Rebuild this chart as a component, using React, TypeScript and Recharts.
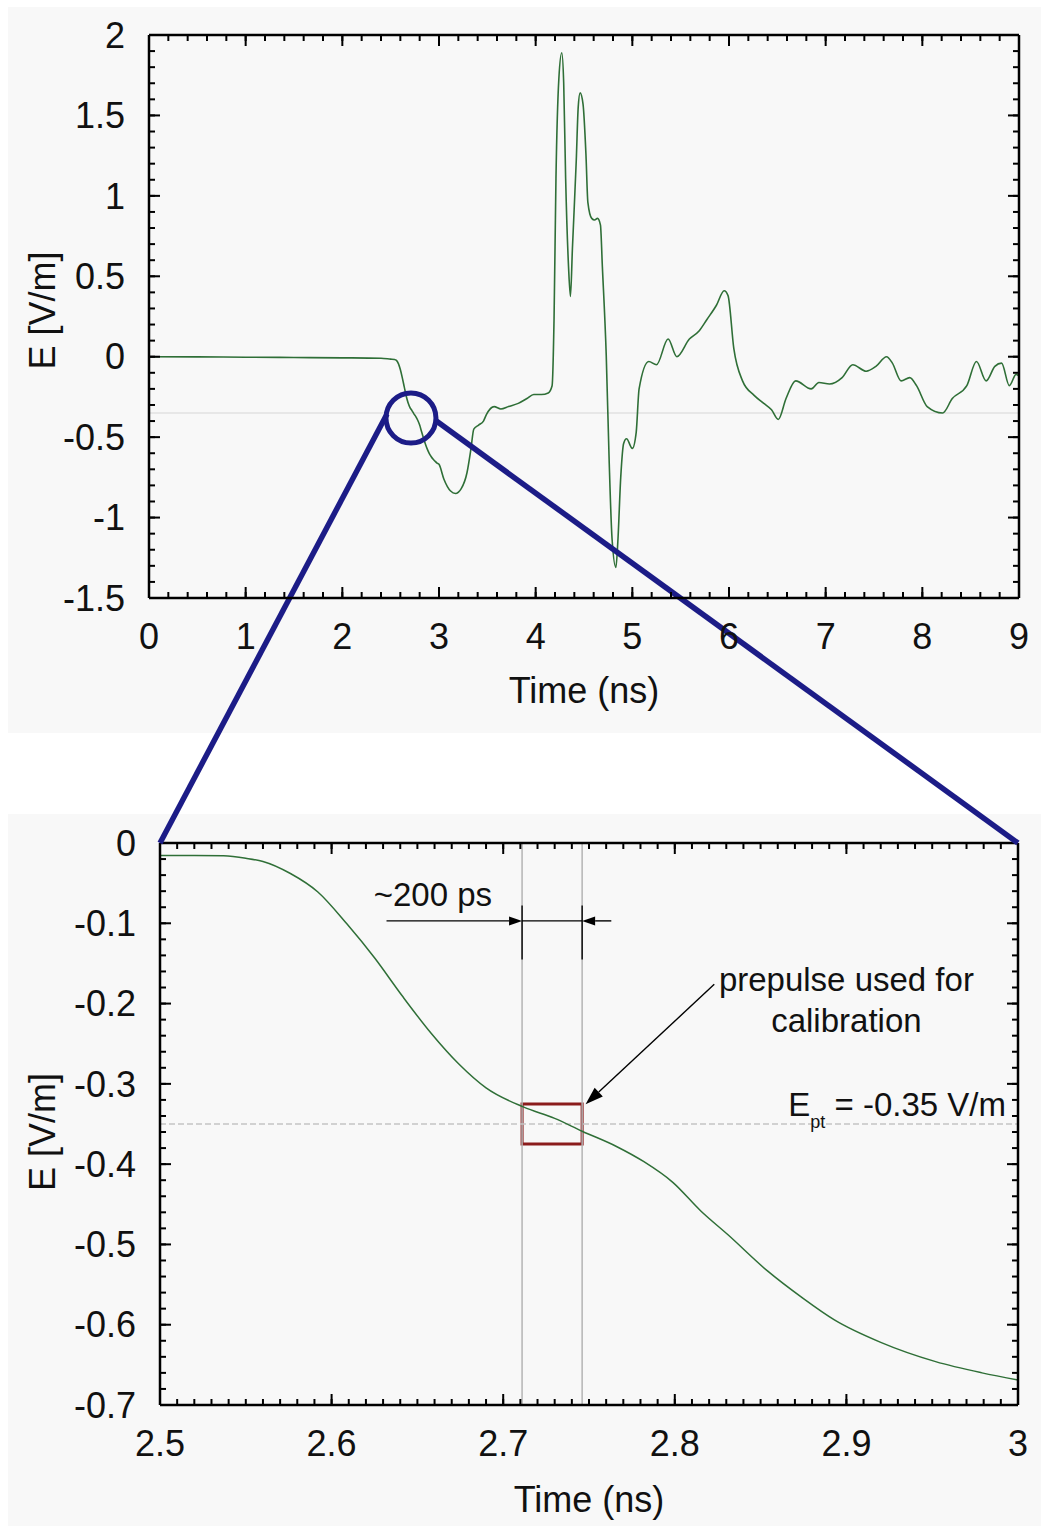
import React from "react"
import { Line, LineChart, ReferenceArea, ReferenceDot, ReferenceLine, XAxis, YAxis } from "recharts"

const FONT = '"Liberation Sans", Arial, Helvetica, sans-serif'
const INK = "#111"
const NAVY = "#1c1c87"
const TRACE = "#2f6f37"
const PANEL = "#f8f8f8"

// full record, time in ns / field in V/m
const recordTime = [
    0, 0.5, 1, 1.5, 2, 2.4, 2.5, 2.54, 2.56, 2.58,
    2.6, 2.62, 2.64, 2.66, 2.68, 2.7, 2.72, 2.74, 2.76, 2.78,
    2.8, 2.82, 2.84, 2.86, 2.88, 2.9, 2.92, 2.94, 2.96, 2.98,
    3, 3.05, 3.12, 3.17, 3.23, 3.29, 3.33, 3.36, 3.41, 3.46,
    3.49, 3.57, 3.64, 3.72, 3.82, 3.91, 3.98, 4.06, 4.13, 4.17,
    4.19, 4.21, 4.24, 4.27, 4.29, 4.31, 4.34, 4.36, 4.38, 4.42,
    4.44, 4.46, 4.49, 4.52, 4.54, 4.58, 4.61, 4.64, 4.67, 4.69,
    4.73, 4.76, 4.79, 4.83, 4.85, 4.88, 4.91, 4.94, 5, 5.04,
    5.07, 5.17, 5.25, 5.37, 5.46, 5.59, 5.69, 5.77, 5.87, 5.95,
    5.99, 6.05, 6.14, 6.26, 6.36, 6.44, 6.51, 6.59, 6.69, 6.85,
    6.93, 7.04, 7.17, 7.28, 7.42, 7.52, 7.63, 7.69, 7.78, 7.87,
    7.94, 8.05, 8.21, 8.31, 8.46, 8.56, 8.66, 8.75, 8.82, 8.9,
    8.97, 9,
]
const recordField = [
    0, -0.001, -0.003, -0.005, -0.007, -0.01, -0.015, -0.017, -0.023, -0.043,
    -0.08, -0.13, -0.186, -0.243, -0.286, -0.316, -0.335, -0.355, -0.372, -0.395,
    -0.425, -0.467, -0.507, -0.544, -0.576, -0.602, -0.622, -0.638, -0.65, -0.661,
    -0.669, -0.76, -0.835, -0.85, -0.82, -0.72, -0.575, -0.45, -0.425, -0.4,
    -0.36, -0.31, -0.325, -0.31, -0.29, -0.26, -0.235, -0.235, -0.225, -0.18,
    0.23, 1.11, 1.73, 1.89, 1.7, 1.11, 0.56, 0.375, 0.67, 1.22,
    1.55, 1.64, 1.57, 1.26, 0.96, 0.86, 0.85, 0.86, 0.82, 0.56,
    0.01, -0.64, -1.13, -1.31, -1.15, -0.75, -0.54, -0.51, -0.57, -0.47,
    -0.2, -0.03, -0.05, 0.11, 0, 0.11, 0.16, 0.23, 0.32, 0.41,
    0.38, 0.05, -0.15, -0.24, -0.29, -0.33, -0.39, -0.26, -0.15, -0.2,
    -0.16, -0.17, -0.13, -0.05, -0.09, -0.06, 0, -0.04, -0.15, -0.13,
    -0.18, -0.31, -0.35, -0.26, -0.18, -0.03, -0.15, -0.06, -0.04, -0.18,
    -0.11, -0.12,
]

// zoom on the prepulse, 2.5 - 3 ns
const prepulseTime = [
    2.5, 2.52, 2.537, 2.55, 2.56, 2.576, 2.592, 2.609, 2.625, 2.641,
    2.658, 2.674, 2.69, 2.712, 2.73, 2.746, 2.766, 2.782, 2.799, 2.815,
    2.831, 2.854, 2.874, 2.893, 2.92, 2.952, 2.979, 3,
]
const prepulseField = [
    -0.0155, -0.0155, -0.016, -0.019, -0.023, -0.038, -0.061, -0.101, -0.143, -0.19,
    -0.237, -0.275, -0.305, -0.329, -0.343, -0.359, -0.378, -0.397, -0.423, -0.458,
    -0.488, -0.533, -0.566, -0.594, -0.622, -0.646, -0.66, -0.669,
]

const recordTimeTicks = [0, 1, 2, 3, 4, 5, 6, 7, 8, 9]
const recordFieldTicks = [-1.5, -1, -0.5, 0, 0.5, 1, 1.5, 2]
const prepulseTimeTicks = [2.5, 2.6, 2.7, 2.8, 2.9, 3]
const prepulseFieldTicks = [-0.7, -0.6, -0.5, -0.4, -0.3, -0.2, -0.1, 0]

// calibration window and threshold
const windowStart = 2.711
const windowEnd = 2.746
const boxTop = -0.325
const boxBottom = -0.375
const fieldPt = -0.35

const recordData = recordTime.map((t, i) => ({ t, e: recordField[i] }))
const prepulseData = prepulseTime.map((t, i) => ({ t, e: prepulseField[i] }))

const steps = (from: number, to: number, step: number) =>
    Array.from({ length: Math.round((to - from) / step) + 1 }, (_, i) => +(from + i * step).toFixed(4))

const tickStyle = { fontSize: 36, fill: INK, fontFamily: FONT }
const frameLine = { stroke: "#000", strokeWidth: 2.5 }
const tickLine = { stroke: "#000", strokeWidth: 2 }
const THIN = 0.01 // mirrored axes take (almost) no room
const noLabel = () => <g />

// inward ticks on all four sides, gnuplot style
const frameAxes = (id: string, xd: number[], yd: number[], xMaj: number[], xMin: number[], yMaj: number[], yMin: number[]) => [
    ...(["top", "bottom"] as const).flatMap(side => [
        <XAxis key={`${id}${side}M`} xAxisId={`${id}${side}M`} dataKey="t" orientation={side} mirror type="number" domain={xd} allowDataOverflow
            ticks={xMaj} interval={0} height={THIN} tick={noLabel} tickSize={11} tickLine={tickLine} axisLine={frameLine} />,
        <XAxis key={`${id}${side}m`} xAxisId={`${id}${side}m`} dataKey="t" orientation={side} mirror type="number" domain={xd} allowDataOverflow
            ticks={xMin} interval={0} height={THIN} tick={noLabel} tickSize={6} tickLine={tickLine} axisLine={false} />,
    ]),
    ...(["left", "right"] as const).flatMap(side => [
        <YAxis key={`${id}${side}M`} yAxisId={`${id}${side}M`} orientation={side} mirror type="number" domain={yd} allowDataOverflow
            ticks={yMaj} interval={0} width={THIN} tick={noLabel} tickSize={11} tickLine={tickLine} axisLine={frameLine} />,
        <YAxis key={`${id}${side}m`} yAxisId={`${id}${side}m`} orientation={side} mirror type="number" domain={yd} allowDataOverflow
            ticks={yMin} interval={0} width={THIN} tick={noLabel} tickSize={6} tickLine={tickLine} axisLine={false} />,
    ]),
]

const arrow = (len: number, half: number) => (p: any) => {
    const { x1, y1, x2, y2 } = p
    const a = Math.atan2(y2 - y1, x2 - x1)
    const bx = x2 - len * Math.cos(a)
    const by = y2 - len * Math.sin(a)
    const nx = -Math.sin(a) * half
    const ny = Math.cos(a) * half
    return (
        <g>
            <line x1={x1} y1={y1} x2={bx} y2={by} stroke="#000" strokeWidth={1.4} />
            <polygon points={`${x2},${y2} ${bx + nx},${by + ny} ${bx - nx},${by - ny}`} fill="#000" />
        </g>
    )
}

const note = (lines: string[], anchor = "middle") => (p: any) => (
    <text x={p.cx} y={p.cy} textAnchor={anchor} fontSize={33} fontFamily={FONT} fill={INK}>
        {lines.map((s, i) => <tspan key={i} x={p.cx} dy={i === 0 ? 0 : 41}>{s}</tspan>)}
    </text>
)

const thresholdNote = (p: any) => (
    <text x={p.cx} y={p.cy} textAnchor="end" fontSize={33} fontFamily={FONT} fill={INK}>
        E<tspan dy={12} fontSize={18}>pt</tspan><tspan dy={-12}>{" = -0.35 V/m"}</tspan>
    </text>
)

const FullRecord = () => (
    <LineChart width={1041} height={870} data={recordData} margin={{ top: 35, right: 22, bottom: 152, left: 0 }}>
        <XAxis dataKey="t" type="number" domain={[0, 9]} ticks={recordTimeTicks} interval={0} tickLine={false}
            axisLine={false} tickSize={0} tickMargin={25} height={120} tick={tickStyle}
            label={{ value: "Time (ns)", position: "insideBottom", offset: 15, fontSize: 36, fill: INK, fontFamily: FONT }} />
        <YAxis type="number" domain={[-1.5, 2]} ticks={recordFieldTicks} interval={0} tickLine={false}
            axisLine={false} tickSize={0} tickMargin={24} width={149} tick={tickStyle}
            label={{ value: "E [V/m]", angle: -90, position: "center", dx: -32, dy: -6, fontSize: 36, fill: INK, fontFamily: FONT }} />
        {frameAxes("r", [0, 9], [-1.5, 2], recordTimeTicks, steps(0, 9, 0.2), recordFieldTicks, steps(-1.5, 2, 0.1))}
        <ReferenceLine y={fieldPt} stroke="#e2e2e2" strokeWidth={1.5} />
        <Line dataKey="e" type="monotone" stroke={TRACE} strokeWidth={1.6} dot={false} isAnimationActive={false} />
        <ReferenceDot x={2.71} y={-0.381} r={25} fill="none" stroke={NAVY} strokeWidth={5} ifOverflow="visible" />
        <ReferenceLine segment={[{ x: 2.462, y: -0.356 }, { x: 0.114, y: -3.023 }]} stroke={NAVY} strokeWidth={5.5} ifOverflow="visible" />
        <ReferenceLine segment={[{ x: 2.959, y: -0.394 }, { x: 8.989, y: -3.023 }]} stroke={NAVY} strokeWidth={5.5} ifOverflow="visible" />
    </LineChart>
)

const PrepulseZoom = () => (
    <LineChart width={1041} height={736} data={prepulseData} margin={{ top: 53, right: 23, bottom: 0, left: 0 }}>
        <XAxis dataKey="t" type="number" domain={[2.5, 3]} ticks={prepulseTimeTicks} interval={0} tickLine={false}
            axisLine={false} tickSize={0} tickMargin={25} height={121} tick={tickStyle}
            label={{ value: "Time (ns)", position: "insideBottom", offset: 14, fontSize: 36, fill: INK, fontFamily: FONT }} />
        <YAxis type="number" domain={[-0.7, 0]} ticks={prepulseFieldTicks} interval={0} tickLine={false}
            axisLine={false} tickSize={0} tickMargin={24} width={160} tick={tickStyle}
            label={{ value: "E [V/m]", angle: -90, position: "center", dx: -38, dy: 8, fontSize: 36, fill: INK, fontFamily: FONT }} />
        {frameAxes("z", [2.5, 3], [-0.7, 0], prepulseTimeTicks, steps(2.5, 3, 0.01), prepulseFieldTicks, steps(-0.7, 0, 0.02))}
        <ReferenceLine x={windowStart} stroke="#b4b4b4" strokeWidth={1.5} />
        <ReferenceLine x={windowEnd} stroke="#b4b4b4" strokeWidth={1.5} />
        <ReferenceLine y={fieldPt} stroke="#c4c4c4" strokeWidth={1.5} strokeDasharray="6 3" />
        <Line dataKey="e" type="monotone" stroke={TRACE} strokeWidth={1.5} dot={false} isAnimationActive={false} />
        <ReferenceArea x1={windowStart} x2={windowEnd} y1={boxBottom} y2={boxTop} fill="none" stroke="#8b1c1c" strokeWidth={3} />
        <ReferenceLine segment={[{ x: windowStart, y: -0.078 }, { x: windowStart, y: -0.145 }]} stroke="#000" strokeWidth={1.4} />
        <ReferenceLine segment={[{ x: windowEnd, y: -0.078 }, { x: windowEnd, y: -0.145 }]} stroke="#000" strokeWidth={1.4} />
        <ReferenceLine segment={[{ x: windowStart, y: -0.097 }, { x: windowEnd, y: -0.097 }]} stroke="#000" strokeWidth={1.4} />
        <ReferenceLine segment={[{ x: 2.632, y: -0.097 }, { x: windowStart, y: -0.097 }]} shape={arrow(13, 4.5)} />
        <ReferenceLine segment={[{ x: 2.763, y: -0.097 }, { x: windowEnd, y: -0.097 }]} shape={arrow(13, 4.5)} />
        <ReferenceLine segment={[{ x: 2.823, y: -0.176 }, { x: 2.748, y: -0.3255 }]} shape={arrow(18, 6)} />
        <ReferenceDot x={2.659} y={-0.078} r={0} shape={note(["~200 ps"])} />
        <ReferenceDot x={2.9} y={-0.184} r={0} shape={note(["prepulse used for", "calibration"])} />
        <ReferenceDot x={2.993} y={-0.3405} r={0} shape={thresholdNote} />
    </LineChart>
)

export default function App() {
    return (
        <div style={{ position: "relative", width: 1041, height: 1526, background: "#fff", fontFamily: FONT }}>
            <style>{"body{margin:0}"}</style>
            <div style={{ position: "absolute", left: 8, top: 7, width: 1033, height: 726, background: PANEL }} />
            <div style={{ position: "absolute", left: 8, top: 814, width: 1033, height: 712, background: PANEL }} />
            <div style={{ position: "absolute", left: 0, top: 790 }}>
                <PrepulseZoom />
            </div>
            <div style={{ position: "absolute", left: 0, top: 0 }}>
                <FullRecord />
            </div>
        </div>
    )
}
